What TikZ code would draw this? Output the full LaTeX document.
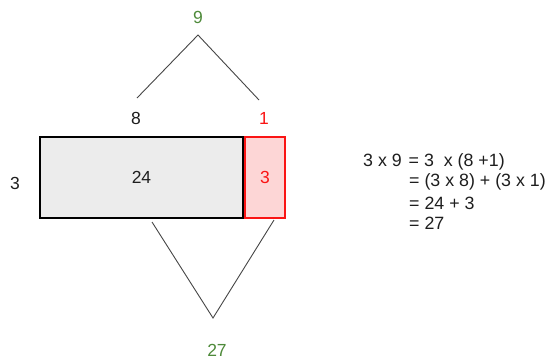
\documentclass[tikz,border=0pt]{standalone}
\usepackage{fontspec}
\setmainfont{Liberation Sans}
\definecolor{numgreen}{RGB}{78,138,58}
\definecolor{numred}{RGB}{250,20,20}
\definecolor{textdark}{RGB}{30,30,30}
\definecolor{linegray}{RGB}{70,70,70}
\definecolor{boxgray}{RGB}{236,236,236}
\definecolor{boxpink}{RGB}{253,214,214}
\begin{document}
\begin{tikzpicture}[x=1pt,y=-1pt,
  lbl/.style={inner sep=0pt,text=textdark,font=\fontsize{17.5}{20}\selectfont},
  eqn/.style={inner sep=0pt,anchor=west,text=textdark,font=\fontsize{17.8}{20}\selectfont},
  branch/.style={draw=linegray,line width=0.9pt},
  boxblack/.style={draw=black,fill=boxgray,line width=1.6pt,minimum width=203pt,minimum height=81pt,inner sep=0pt},
  boxred/.style={draw=numred,fill=boxpink,line width=1.9pt,minimum width=40pt,minimum height=81pt,inner sep=0pt}]
\useasboundingbox (0,0) rectangle (550,360);
\fill[white] (0,0) rectangle (550,360);
% numbers
\node[lbl,text=numgreen] (n9) at (198,17) {9};
\node[lbl] (n8) at (136,118) {8};
\node[lbl,text=numred] (n1) at (264,118) {1};
\node[lbl] (left3) at (15,183) {3};
\node[lbl,text=numgreen] (n27) at (217,350) {27};
% boxes
\node[boxblack] (box24) at (141.5,177.5) {};
\node[boxred] (box3) at (265,177.5) {};
\node[lbl] at (box24.center) {24};
\node[lbl,text=numred] at (box3.center) {3};
% branches
\coordinate (top) at (198,35);
\coordinate (topL) at (137,98);
\coordinate (topR) at (259,100);
\coordinate (botL) at (152,222);
\coordinate (botR) at (274,220);
\coordinate (bot) at (213,318);
\draw[branch] (topL) -- (top) -- (topR);
\draw[branch] (botL) -- (bot) -- (botR);
% equations
\node[eqn] (eq1) at (363,162) {3 x 9\hspace{2pt} = 3 \ x (8 +1)};
\node[eqn] (eq2) at (409,182) {= (3 x 8) + (3 x 1)};
\node[eqn] (eq3) at (409,203) {= 24 + 3};
\node[eqn] (eq4) at (409,223) {= 27};
\end{tikzpicture}
\end{document}
